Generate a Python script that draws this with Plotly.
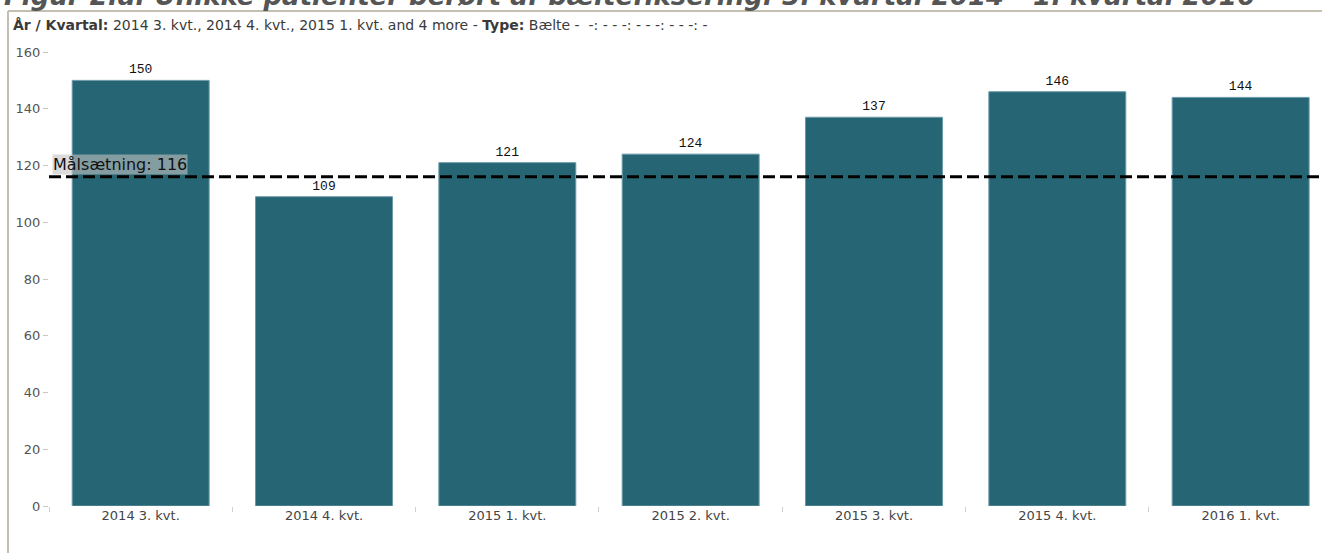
import plotly.graph_objects as go

categories = ["2014 3. kvt.", "2014 4. kvt.", "2015 1. kvt.", "2015 2. kvt.",
              "2015 3. kvt.", "2015 4. kvt.", "2016 1. kvt."]
values = [150, 109, 121, 124, 137, 146, 144]
target = 116
y_ticks = [0, 20, 40, 60, 80, 100, 120, 140, 160]

W, H = 1322, 553
L, R, T, B = 49, 0, 40, 47
pw, ph = W - L - R, H - T - B

def xp(px):
    return (px - L) / pw

def yp(py):
    return (H - B - py) / ph

fig = go.Figure()
fig.add_trace(go.Bar(
    x=categories, y=values,
    marker=dict(color="#266573", line=dict(color="#6a9aa8", width=1)),
    width=0.747,
    text=[str(v) for v in values], textposition="outside",
    textfont=dict(family="Liberation Mono, monospace", size=13, color="#111"),
    cliponaxis=False,
))

cat_w = 183.33
fig.update_layout(
    width=W, height=H,
    margin=dict(l=L, r=R, t=T, b=B),
    paper_bgcolor="white", plot_bgcolor="white",
    showlegend=False,
    xaxis=dict(
        range=[-0.5, -0.5 + pw / cat_w],
        showgrid=False, zeroline=False, showline=False,
        ticks="outside", tickson="boundaries", ticklen=5, tickcolor="#d0d0d0",
        tickfont=dict(family="DejaVu Sans, Verdana", size=13, color="#444"),
    ),
    yaxis=dict(
        range=[0, 160 + 12 / 2.8375],
        tickvals=y_ticks,
        showgrid=False, zeroline=False, showline=False,
        ticks="outside", ticklen=5, tickcolor="#c8c8c8",
        tickfont=dict(family="DejaVu Sans, Verdana", size=13, color="#555"),
    ),
)

# target line
fig.add_shape(type="line", xref="paper", yref="y", x0=0, x1=1, y0=target, y1=target,
              line=dict(color="black", width=3, dash="12px,5px"))
fig.add_annotation(xref="paper", yref="y", x=xp(52), y=target, xanchor="left", yanchor="bottom",
                   text=f"Målsætning: {target}", showarrow=False,
                   font=dict(family="DejaVu Sans, Verdana", size=16, color="#111"),
                   bgcolor="rgba(195,195,195,0.6)", borderpad=0, yshift=2)

# frame lines
fig.add_shape(type="line", xref="paper", yref="paper", x0=xp(8), x1=xp(W), y0=yp(11), y1=yp(11),
              line=dict(color="#c4bfb0", width=2))
fig.add_shape(type="line", xref="paper", yref="paper", x0=xp(8), x1=xp(8), y0=yp(11), y1=yp(H),
              line=dict(color="#c4bfb0", width=2))

# title (clipped at top, as in the reference)
fig.add_annotation(xref="paper", yref="paper", x=xp(2), y=yp(-4), xanchor="left", yanchor="middle",
                   text="<b><i>Figur 2.a: Unikke patienter berørt af bæltefiksering: 3. kvartal 2014 - 1. kvartal 2016</i></b>",
                   showarrow=False, font=dict(family="DejaVu Sans, Verdana", size=26, color="#555"))
# subtitle
fig.add_annotation(xref="paper", yref="paper", x=xp(11), y=yp(25), xanchor="left", yanchor="middle",
                   text="<b>År / Kvartal:</b> 2014 3. kvt., 2014 4. kvt., 2015 1. kvt. and 4 more - <b>Type:</b> Bælte -  -: - - -: - - -: - - -: -",
                   showarrow=False, font=dict(family="DejaVu Sans, Verdana", size=14, color="#3a3a3a"))

fig.write_html("out.html")
